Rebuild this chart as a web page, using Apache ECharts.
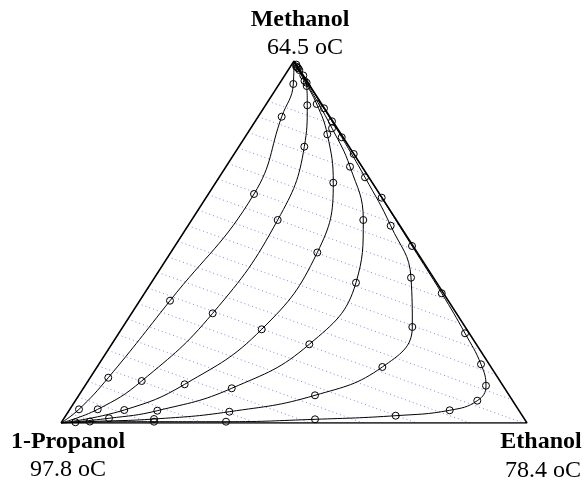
<!DOCTYPE html>
<html><head><meta charset="utf-8">
<script src="https://cdn.jsdelivr.net/npm/echarts/dist/echarts.min.js"></script>
<style>html,body{margin:0;padding:0;background:#fff}#c{width:585px;height:483px}</style>
</head><body><div id="c"></div>
<script>
// Components (vertices) and their boiling points
const vertexNames = ['Methanol', 'Ethanol', '1-Propanol'];
const vertexTemps = ['64.5 oC', '78.4 oC', '97.8 oC'];
// Vertex compositions [x_Methanol, x_Ethanol]
const vertexMethanol = [1, 0];
const vertexEthanol = [0, 1];
const vertexPropanol = [0, 0];

// Residue curves, points as [x_Methanol, x_Ethanol]
const curve1 = [[1,0],[0.9365,0.0303],[0.8461,0.0505],[0.6326,0.0979],[0.3378,0.0650],[0.1251,0.0389],[0.0378,0.0197],[0,0]];
const curve2 = [[1,0],[0.985,0.012],[0.9309,0.0618],[0.8776,0.0897],[0.7633,0.1405],[0.5608,0.1846],[0.3030,0.1740],[0.1160,0.1152],[0.0378,0.0599],[0,0]];
const curve3 = [[1,0],[0.982,0.016],[0.945,0.05],[0.8812,0.1081],[0.7975,0.1727],[0.6638,0.2524],[0.4710,0.3145],[0.2588,0.3013],[0.1069,0.2119],[0.0359,0.1178],[0,0]];
const curve4 = [[1,0],[0.98,0.019],[0.94,0.057],[0.8141,0.1745],[0.7080,0.2662],[0.5608,0.3683],[0.3876,0.4392],[0.2174,0.4241],[0.0959,0.3184],[0.0340,0.1897],[0.0130,0.0965],[0,0]];
const curve5 = [[1,0],[0.975,0.024],[0.8693,0.1297],[0.7892,0.2078],[0.6787,0.3130],[0.5450,0.4350],[0.4014,0.5504],[0.2652,0.6213],[0.1547,0.6122],[0.0765,0.5068],[0.0312,0.3456],[0.0110,0.1941],[0.004,0.06],[0,0]];
const curve6 = [[1,0],[0.99,0.0099],[0.96,0.0399],[0.8334,0.1648],[0.7431,0.2566],[0.6224,0.3770],[0.4890,0.5087],[0.3583,0.6379],[0.2478,0.7431],[0.1622,0.8202],[0.1030,0.8605],[0.0616,0.8625],[0.0351,0.8166],[0.0202,0.7081],[0.0102,0.5400],[0.0036,0.3523],[0.0036,0.1978],[0.002,0.03],[0,0]];
const curves = [curve1, curve2, curve3, curve4, curve5, curve6];

// Isotherm (dotted) lines: methanol fraction where each starts on the Methanol–1-Propanol edge
const isothermStartMethanol = [0.029,0.072,0.115,0.158,0.201,0.244,0.287,0.330,0.373,0.416,0.459,0.502,0.545,0.588,0.631,0.674,0.717,0.760,0.803,0.846,0.889];
const isothermSlope = -0.463; // in plot (data) units

// ternary -> cartesian data coordinates (1-Propanol at origin, Ethanol at (1,0), Methanol at (0.5,1))
function toXY(p) { return [p[1] + 0.5 * p[0], p[0]]; }

function isothermSegment(y0) {
  const m = isothermSlope;
  const start = [y0 / 2, y0];
  const xb = y0 / 2 - y0 / m;
  if (xb <= 1) return [start, [xb, 0]];
  const y = (y0 * (1 - m / 2) + m) / (1 + m / 2);
  return [start, [1 - y / 2, y]];
}

const chart = echarts.init(document.getElementById('c'), null, {renderer: 'canvas'});
const series = [];
series.push({
  type: 'lines', coordinateSystem: 'cartesian2d', silent: true, z: 1,
  lineStyle: {color: '#7777ee', width: 1, type: [1, 3], opacity: 0.9},
  data: isothermStartMethanol.map(v => ({coords: isothermSegment(v)}))
});
series.push({
  type: 'line', silent: true, z: 3, symbol: 'none',
  lineStyle: {color: '#000', width: 1.5},
  data: [vertexPropanol, vertexEthanol, vertexMethanol, vertexPropanol].map(toXY)
});
curves.forEach(c => {
  series.push({
    type: 'line', silent: true, z: 4, smooth: 0.45,
    symbol: 'circle', symbolSize: 7,
    itemStyle: {color: 'rgba(0,0,0,0)', borderColor: '#000', borderWidth: 1},
    lineStyle: {color: '#000', width: 1},
    data: c.map((p, i) => {
      const d = {value: toXY(p)};
      if (i === 0 || i === c.length - 1) d.symbol = 'none';
      return d;
    })
  });
});

const font = '"Liberation Serif", "Times New Roman", serif';
chart.setOption({
  animation: false,
  grid: {left: 61, right: 58, top: 61, bottom: 60},
  xAxis: {type: 'value', min: 0, max: 1, show: false},
  yAxis: {type: 'value', min: 0, max: 1, show: false},
  series: series,
  graphic: [
    {type: 'text', style: {text: vertexNames[0], x: 300, y: 20, font: 'bold 24px ' + font, textAlign: 'center', textVerticalAlign: 'middle', fill: '#000'}},
    {type: 'text', style: {text: vertexTemps[0], x: 305, y: 48, font: '24px ' + font, textAlign: 'center', textVerticalAlign: 'middle', fill: '#000'}},
    {type: 'text', style: {text: vertexNames[2], x: 68, y: 442, font: 'bold 24px ' + font, textAlign: 'center', textVerticalAlign: 'middle', fill: '#000'}},
    {type: 'text', style: {text: vertexTemps[2], x: 68, y: 470, font: '24px ' + font, textAlign: 'center', textVerticalAlign: 'middle', fill: '#000'}},
    {type: 'text', style: {text: vertexNames[1], x: 541, y: 442, font: 'bold 24px ' + font, textAlign: 'center', textVerticalAlign: 'middle', fill: '#000'}},
    {type: 'text', style: {text: vertexTemps[1], x: 543, y: 471, font: '24px ' + font, textAlign: 'center', textVerticalAlign: 'middle', fill: '#000'}}
  ]
});
</script>
</body></html>
